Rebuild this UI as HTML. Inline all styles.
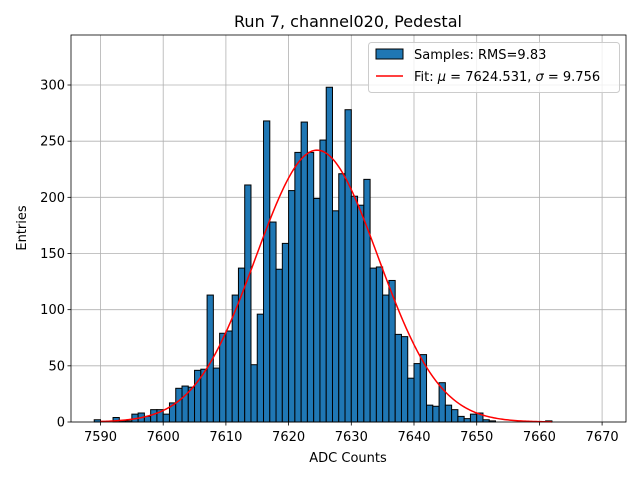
<!DOCTYPE html>
<html><head><meta charset="utf-8"><style>
body{margin:0;background:#fff;font-family:"Liberation Sans","DejaVu Sans",sans-serif;}
svg{display:block;}
svg text{font-family:"DejaVu Sans","Liberation Sans",sans-serif;}
</style></head><body>
<svg id="chart" width="640" height="480" style="position:absolute;left:0;top:0" xmlns="http://www.w3.org/2000/svg"></svg>
<script>
const binStarts=[7589,7590,7591,7592,7593,7594,7595,7596,7597,7598,7599,7600,7601,7602,7603,7604,7605,7606,7607,7608,7609,7610,7611,7612,7613,7614,7615,7616,7617,7618,7619,7620,7621,7622,7623,7624,7625,7626,7627,7628,7629,7630,7631,7632,7633,7634,7635,7636,7637,7638,7639,7640,7641,7642,7643,7644,7645,7646,7647,7648,7649,7650,7651,7652,7653,7654,7655,7656,7657,7658,7659,7660,7661];
const counts=[2,0,0,4,1,1,7,8,5,11,11,7,17,30,32,31,46,47,113,48,79,81,113,137,211,51,96,268,178,136,159,206,240,267,240,199,251,298,188,221,278,201,193,216,137,138,113,126,78,76,39,52,60,15,14,35,15,11,5,3,7,8,2,1,0,0,0,0,0,0,0,0,1];
const xTicks=[7590,7600,7610,7620,7630,7640,7650,7660,7670];
const yTicks=[0,50,100,150,200,250,300];
const fitMu=7624.531, fitSigma=9.756, fitAmp=242;
const NS='http://www.w3.org/2000/svg';
const svg=document.getElementById('chart');
const L=71,R=626,T=35,B=422;
const xs=v=>100.5+(v-7590)*6.27;
const ys=v=>B-v*(337/300);
function mk(tag,attrs,parent){const e=document.createElementNS(NS,tag);for(const k in attrs)e.setAttribute(k,attrs[k]);(parent||svg).appendChild(e);return e;}
const grid=mk('g',{});


xTicks.forEach(t=>{mk('line',{x1:xs(t),x2:xs(t),y1:T,y2:B,stroke:'#b0b0b0','stroke-width':0.8},grid);});
yTicks.forEach(t=>{mk('line',{x1:L,x2:R,y1:ys(t),y2:ys(t),stroke:'#b0b0b0','stroke-width':0.8},grid);});
const bars=mk('g',{});


binStarts.forEach((b,i)=>{
  if(counts[i]<=0)return;
  const r=mk('rect',{x:xs(b),y:ys(counts[i]),width:xs(b+1)-xs(b),height:B-ys(counts[i]),fill:'#1f77b4',stroke:'#000','stroke-width':1},bars);
  
  
});
let d='';
for(let v=7590;v<=7662;v+=0.25){const y=fitAmp*Math.exp(-0.5*Math.pow((v-fitMu)/fitSigma,2));d+=(d?'L':'M')+xs(v).toFixed(2)+','+ys(y).toFixed(2);}
const fit=mk('path',{d:d,fill:'none',stroke:'red','stroke-width':1.5});


const fr=mk('rect',{x:L,y:T,width:R-L,height:B-T,fill:'none',stroke:'#000','stroke-width':0.8});


const xt=mk('g',{});


xTicks.forEach(t=>{mk('line',{x1:xs(t),x2:xs(t),y1:B,y2:B+3.5,stroke:'#000','stroke-width':0.8},xt);const tx=mk('text',{x:xs(t),y:B+19,'font-size':13,'text-anchor':'middle'},xt);tx.textContent=t;});
const yt=mk('g',{});


yTicks.forEach(t=>{mk('line',{x1:L-3.5,x2:L,y1:ys(t),y2:ys(t),stroke:'#000','stroke-width':0.8},yt);const tx=mk('text',{x:L-6,y:ys(t)+4.5,'font-size':13,'text-anchor':'end'},yt);tx.textContent=t;});
</script>
<svg width="640" height="480" style="position:absolute;left:0;top:0">
<text x="348" y="27" font-size="16" text-anchor="middle">Run 7, channel020, Pedestal</text>
<text x="348" y="462" font-size="13" text-anchor="middle">ADC Counts</text>
<text x="26" y="228" font-size="13" text-anchor="middle" transform="rotate(-90 26 228)">Entries</text>
<g>
<rect x="368.5" y="42.5" width="251" height="50" rx="3" fill="#fff" fill-opacity="0.8" stroke="#ccc"/>
<rect x="376" y="49" width="27" height="10" fill="#1f77b4" stroke="#000"/>
<text x="414" y="59" font-size="13">Samples: RMS=9.83</text>
<line x1="376" x2="403" y1="76" y2="76" stroke="red" stroke-width="1.5"/>
<text x="414" y="81" font-size="13">Fit: <tspan font-style="italic">μ</tspan> = 7624.531, <tspan font-style="italic">σ</tspan> = 9.756</text>
</g>
</svg>
</body></html>
